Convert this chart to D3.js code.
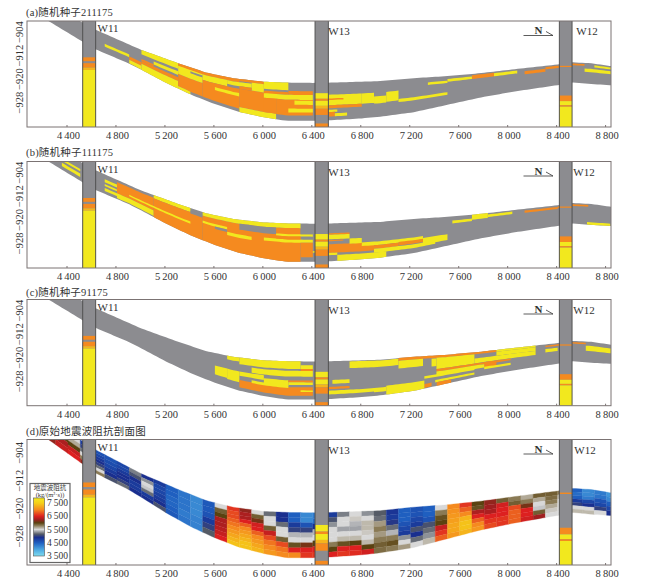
<!DOCTYPE html>
<html>
<head>
<meta charset="utf-8">
<script src="https://cdn.jsdelivr.net/npm/d3@7"></script>
<style>
body { margin: 0; background: #fff; }
text { font-family: "Liberation Serif", serif; fill: #333; }
.cjk { font-family: "Liberation Serif", "Noto Sans CJK SC", serif; }
</style>
</head>
<body>
<svg id="chart" width="662" height="581"></svg>
<script>
let xTicks = [4400, 4800, 5200, 5600, 6000, 6400, 6800, 7200, 7600, 8000, 8400, 8800];
let yTicks = [-904, -912, -920, -928];

// horizons of the section: trace number, depth
let topX = [4200, 4490, 4630, 5000, 5300, 5530, 5750, 6000, 6200, 6400, 6550, 6949, 7221, 7494, 7766, 8038, 8412, 8520, 8670, 8840];
let topD = [893, 899.6, 902.8, 909.6, 914.1, 917.3, 919.2, 920.4, 920.7, 920.8, 920.7, 920.2, 919.2, 918.5, 917.5, 916.2, 914.5, 913.8, 914.1, 915.1];
let botX = [4200, 4234, 4520, 4626, 4893, 5002, 5206, 5410, 5587, 5791, 5996, 6186, 6404, 6548, 6793, 6949, 7221, 7494, 7766, 8038, 8311, 8412, 8523, 8672, 8841];
let botD = [898.8, 899.6, 906.8, 909.4, 914.1, 916.4, 920.9, 924.9, 927.8, 930.6, 932.5, 933.7, 933.7, 933.5, 932.9, 932.3, 930.8, 928.3, 925.8, 923.8, 922.1, 921.5, 920.7, 921.2, 921.6];

// wells: left and right trace, label
let wellNames = ["W11", "W13", "W12"];
let wellX0 = [4520, 6418, 8414];
let wellX1 = [4626, 6527, 8518];
// log intervals per well: depth from, depth to, facies
let wellLogs = [
	[[912.1, 913.4, "O"], [914.1, 915.6, "O"], [915.6, 916.4, "G"], [916.4, 936, "Y"]],
	[[924.3, 926.2, "Y"], [926.2, 926.9, "O"], [926.9, 928.6, "Y"], [928.6, 929.6, "G"], [929.6, 931.7, "O"], [934.6, 936, "O"]],
	[[915, 915.4, "O"], [925.1, 927, "O"], [927, 928.4, "Y"], [928.4, 928.9, "O"], [928.9, 936, "Y"]]
];

// simulated lenses: trace from, trace to, layer from, layer to (0 top, 1 base), facies
let lensesA = [
	[4700, 4900, .52, .66, "Y"], [4900, 5000, .62, .8, "O"], [4900, 5000, .8, .98, "Y"],
	[5000, 5300, 0, .22, "Y"], [5000, 5100, .45, .55, "O"], [5100, 5300, .32, .46, "Y"],
	[5000, 5300, .55, .7, "O"], [5000, 5300, .7, 1, "Y"],
	[5300, 5500, .42, .9, "O"], [5300, 5400, .9, 1, "Y"], [5300, 5500, .08, .42, "Y"], [5400, 5500, .15, .22, "G"],
	[5300, 5800, 0, .1, "O"], [5800, 6000, 0, .07, "O"],
	[5500, 5700, .1, .3, "Y"], [5500, 5800, .3, .9, "O"], [5600, 5800, .43, .53, "Y"], [5700, 5900, .1, .22, "Y"],
	[5800, 6100, .3, .85, "O"], [5900, 6000, .07, .3, "Y"], [5800, 5900, .22, .3, "O"], [5800, 6100, .85, 1, "Y"],
	[6000, 6200, 0, .2, "Y"], [6000, 6200, .25, .32, "O"], [6200, 6400, .22, .32, "O"], [6000, 6400, .32, .45, "Y"],
	[6100, 6400, .45, .86, "O"], [6000, 6100, .45, .85, "O"], [6250, 6400, .47, .58, "Y"], [6200, 6400, .68, .78, "Y"],
	[6530, 6800, .32, .6, "Y"], [6530, 6800, .6, .68, "O"], [6530, 6650, .42, .46, "O"], [6800, 6900, .32, .6, "Y"],
	[6530, 6600, .72, .78, "Y"], [6530, 6580, .78, .9, "O"], [6580, 6680, .82, .9, "Y"],
	[6900, 7000, .42, .62, "Y"], [7000, 7100, .32, .6, "Y"], [7100, 7500, .56, .65, "Y"],
	[7340, 7500, .16, .24, "Y"], [7500, 7700, .1, .2, "Y"], [7700, 7880, .05, .2, "O"], [7880, 8070, .07, .2, "Y"],
	[8130, 8300, .14, .28, "O"], [8300, 8410, .06, .17, "O"], [8410, 8620, .06, .14, "O"], [8620, 8840, .27, .43, "Y"], [8700, 8840, .08, .18, "Y"]
];
let lensesB = [
	[4300, 4500, .38, .5, "Y"], [4350, 4500, .62, .8, "Y"],
	[4700, 4800, .25, .4, "Y"], [4700, 4800, .5, .6, "Y"], [4700, 4800, .7, .85, "Y"],
	[4800, 5100, .12, .7, "O"], [4800, 5100, .7, .95, "Y"], [5100, 5400, 0, .15, "Y"],
	[5100, 5500, .15, 1, "O"], [4900, 5400, .5, .58, "Y"], [5400, 5500, .1, .2, "G"],
	[5500, 6300, .12, 1, "O"], [5500, 6300, 0, .12, "Y"], [5800, 6100, .12, .3, "G"],
	[5500, 5700, .3, .38, "Y"], [5700, 5900, .45, .55, "Y"], [5600, 5700, .38, .46, "G"],
	[6100, 6400, .28, .34, "Y"], [6000, 6400, .42, .5, "Y"], [6100, 6300, .34, .42, "O"],
	[6300, 6400, .5, .88, "O"], [6400, 6500, .72, .76, "Y"], [6300, 6400, .15, .28, "G"],
	[6530, 6900, .55, .78, "O"], [6530, 6700, .26, .3, "O"], [6530, 6700, .3, .42, "Y"], [6530, 6650, .44, .47, "O"],
	[6700, 6800, .42, .56, "Y"], [6800, 7300, .54, .64, "Y"], [6900, 7100, .64, .74, "O"], [7100, 7300, .62, .72, "O"],
	[6900, 7400, .74, .85, "Y"], [7300, 7500, .6, .8, "Y"], [6600, 7000, .84, 1, "Y"], [6530, 6600, .78, .84, "Y"],
	[7540, 7700, .15, .25, "Y"], [7700, 7830, 0, .2, "Y"], [7830, 8030, .06, .17, "Y"],
	[8130, 8400, .08, .18, "O"], [8400, 8650, .06, .14, "O"], [8640, 8830, .88, 1, "Y"]
];
let lensesC = [
	[5700, 5800, 0, .12, "Y"], [5800, 6300, 0, .2, "Y"], [6300, 6400, .1, .2, "Y"], [6300, 6400, .2, .26, "O"],
	[5900, 6400, .25, .4, "Y"], [5600, 5700, .42, .72, "Y"], [5700, 5800, .42, .75, "Y"], [5800, 6000, .42, .55, "Y"],
	[6000, 6200, .5, .65, "Y"], [6200, 6400, .5, .55, "O"], [6200, 6400, .55, .62, "Y"],
	[5800, 6400, .68, .9, "O"], [5900, 6200, .62, .7, "Y"], [6300, 6400, .76, .8, "Y"],
	[6700, 7100, .02, .2, "Y"], [7100, 7900, 0, .08, "O"], [7900, 8220, 0, .08, "Y"],
	[7100, 7300, .08, .3, "Y"], [7370, 7410, .1, .35, "Y"], [7410, 7720, .08, .45, "Y"],
	[7720, 8220, .25, .44, "Y"], [7900, 8220, .08, .25, "Y"],
	[7410, 8016, .45, .53, "O"], [7800, 7900, .45, .68, "O"], [7410, 7800, .53, .67, "Y"], [7800, 8016, .64, .74, "Y"],
	[7311, 7720, .62, .7, "Y"], [7400, 7720, .8, .88, "Y"], [7311, 7370, .86, .98, "O"], [7412, 7530, .88, 1, "O"],
	[6530, 6900, .78, .88, "Y"], [6900, 7000, .78, .9, "Y"], [7000, 7311, .75, 1, "Y"],
	[6560, 6700, .5, .6, "Y"], [6530, 6700, .68, .74, "O"],
	[8300, 8630, .06, .13, "O"], [8630, 8840, .2, .45, "Y"], [8300, 8400, .22, .38, "Y"]
];

// impedance, one list per 100 traces from 4200, top to base
let impedance = [
	[5800, 6000, 6200],
	[5700, 6000, 6300, 6400],
	[5500, 5650, 6000, 6400, 6500],
	[4800, 5000, 5200, 5500, 5800, 6200],
	[4600, 4700, 4800, 4900, 5000, 5200, 5500, 5800],
	[4600, 4650, 4700, 4800, 4900, 5100],
	[4700, 4700, 4800, 4900, 4900, 5000, 5200],
	[5250, 5100, 4900, 4800, 4800, 4900],
	[4900, 5300, 5500, 5450, 5200, 4800, 4900],
	[4800, 4700, 4700, 4750, 4800, 4900, 5100],
	[4500, 4500, 4450, 4450, 4500, 4550],
	[4350, 4350, 4350, 4300, 4350],
	[4200, 4200, 4200, 4250, 4250],
	[4550, 4550, 4600, 4800, 5000, 5150],
	[5500, 5900, 6000, 6300, 6300, 6350, 6400, 6500],
	[6600, 6700, 6700, 6800, 6900, 7000, 7100, 7200, 7300, 7400],
	[6200, 6300, 6300, 6500, 6800, 7000, 7100, 7200, 7300, 7400, 7400],
	[5500, 5900, 6100, 6450, 6500, 6800, 7000, 7100, 7200, 7300],
	[5200, 5500, 5500, 5900, 6400, 6700, 6900, 7000, 7100],
	[4900, 4900, 5200, 5500, 5500, 5900, 6700, 6900, 7000],
	[4500, 4500, 4800, 5000, 5400, 5500, 5950, 6500, 7000],
	[4200, 4200, 4600, 5000, 5400, 5500, 6100, 6500, 6600],
	[4300, 4400, 4900, 5400, 5500, 6000, 6500, 6600],
	[4800, 5100, 5300, 5500, 5500, 5500, 5800, 6000, 6500],
	[5250, 5500, 5500, 5350, 5500, 5600, 5950, 6500, 6600],
	[5500, 5550, 5400, 5350, 5500, 5600, 6000, 6500, 6550],
	[5300, 5500, 5600, 5600, 5550, 5500, 5600, 6000, 6450],
	[5150, 5200, 5700, 5800, 5700, 5800, 5900, 5850],
	[4850, 4800, 4950, 5200, 5400, 5800, 5950, 5800],
	[4500, 4500, 4500, 4600, 4700, 4800, 5300, 5500, 5700],
	[4600, 4600, 4700, 4800, 5100, 4900, 5200, 5500],
	[4500, 4500, 4600, 5100, 5200, 5300, 5600],
	[5500, 5800, 5950, 6000, 6400, 6600, 6800],
	[7000, 7050, 7100, 7150, 7200, 7200, 7100],
	[6600, 6800, 7000, 7300, 7400, 7400, 7300],
	[6000, 5950, 6300, 6500, 6800, 7000, 7100],
	[6200, 6250, 6300, 6500, 6600, 6700],
	[5900, 6450, 6500, 6500, 6600, 6600],
	[5800, 5900, 6700, 6800, 6800, 6800],
	[5650, 5800, 6100, 6500, 6500, 6450],
	[5900, 5650, 5500, 5450, 5900, 6250],
	[5900, 5850, 5800, 5650, 5550, 5500],
	[5800, 5600, 5500, 5500, 5500, 5500],
	[4500, 4400, 4500, 4800, 5000, 5500, 5600],
	[4200, 4200, 4300, 4700, 4900, 5500, 5600],
	[4300, 4350, 4600, 4700, 5000, 5500],
	[4100, 4200, 4500, 4700, 4900]
];

let colorStops = [3500, 4000, 4500, 4900, 5150, 5500, 5800, 6000, 6250, 6500, 7000, 7500, 7880];
let colorHex = ["#7fdcef", "#4aa5e0", "#1f5fc0", "#1a2f8f", "#555b66", "#d8d8d8", "#8a7a55", "#5a4210", "#a01f20", "#dd2020", "#f58a1f", "#f5d018", "#f4e81f"];
let legendTicks = [7500, 6500, 5500, 4500, 3500];

let titles = ["(a)随机种子211175", "(b)随机种子111175", "(c)随机种子91175", "(d)原始地震波阻抗剖面图"];
let frameTop = [21, 161.5, 299.5, 439.5];
let frameBot = [127, 268, 405.7, 565];
let titleY = [16, 156, 296, 435];
let w12LabelX = [587, 584, 584, 585];
let panelLenses = [lensesA, lensesB, lensesC, null];

let facies = { Y: "#f2e81e", O: "#f58a1f", G: "#8c8c90" };

let svg = d3.select("#chart");

let x = d3.scaleLinear().domain([4065, 8836]).range([27, 611]);
let topAt = d3.scaleLinear().domain(topX).range(topD);
let botAt = d3.scaleLinear().domain(botX).range(botD);
let color = d3.scaleLinear().domain(colorStops).range(colorHex);

function depthAt(v, f) {
	return topAt(v) + (botAt(v) - topAt(v))*f;
}

function traces(a, b) {
	return d3.range(a, b, 25).concat(b);
}

function tickFormat(d) {
	return d3.format(",")(d).replace(",", "\u2009");
}

titles.forEach(function(title, p) {
	let y = d3.scaleLinear().domain([899.75, 935.8]).range([frameTop[p], frameBot[p]]);
	let g = svg.append("g");
	let clipId = "clip" + p;

	g.append("clipPath").attr("id", clipId).append("rect")
		.attr("x", x(4065)).attr("y", frameTop[p])
		.attr("width", x(8836) - x(4065)).attr("height", frameBot[p] - frameTop[p]);

	let plot = g.append("g").attr("clip-path", "url(#" + clipId + ")");

	let band = function(a, b, f0, f1) {
		return d3.area()
			.x(function(v) { return x(v); })
			.y0(function(v) { return y(depthAt(v, f0)); })
			.y1(function(v) { return y(depthAt(v, f1)); })(traces(a, b));
	};

	if (panelLenses[p]) {
		plot.append("path")
			.attr("d", band(4200, 8840, 0, 1))
			.attr("fill", facies.G);
		plot.selectAll("path.lens")
			.data(panelLenses[p])
			.enter().append("path")
			.attr("class", "lens")
			.attr("d", function(d) { return band(d[0], d[1], d[2], d[3]); })
			.attr("fill", function(d) { return facies[d[4]]; });
	} else {
		impedance.forEach(function(col, i) {
			let a = 4200 + i*100;
			let b = Math.min(a + 100, 8840);
			plot.selectAll("path.c" + i)
				.data(col)
				.enter().append("path")
				.attr("class", "c" + i)
				.attr("d", function(d, k) { return band(a, b, k/col.length, (k + 1)/col.length); })
				.attr("fill", function(d) { return color(d); })
				.attr("stroke", function(d) { return color(d); })
				.attr("stroke-width", 0.3);
		});
	}

	// wells on top of the section
	wellNames.forEach(function(name, w) {
		let wx = x(wellX0[w]);
		let ww = x(wellX1[w]) - wx;
		plot.append("rect")
			.attr("x", wx).attr("y", frameTop[p])
			.attr("width", ww).attr("height", frameBot[p] - frameTop[p])
			.attr("fill", facies.G);
		plot.selectAll("rect.log" + w)
			.data(wellLogs[w])
			.enter().append("rect")
			.attr("class", "log" + w)
			.attr("x", wx)
			.attr("y", function(d) { return y(d[0]); })
			.attr("width", ww)
			.attr("height", function(d) { return y(d[1]) - y(d[0]); })
			.attr("fill", function(d) { return d[2] == "G" ? "#f5b51c" : facies[d[2]]; });
		[wx, wx + ww].forEach(function(lx) {
			plot.append("line")
				.attr("x1", lx).attr("x2", lx)
				.attr("y1", frameTop[p]).attr("y2", frameBot[p])
				.attr("stroke", "#4a4a4a").attr("stroke-width", 0.9);
		});
		let labelX = w == 0 ? 108 : (w == 1 ? 339 : w12LabelX[p]);
		g.append("text")
			.attr("x", labelX)
			.attr("y", frameTop[p] + (w == 0 ? 11 : 14))
			.style("text-anchor", "middle")
			.style("font-size", "11px")
			.text(name);
	});

	// north arrow
	let ny = frameTop[p] + 14.5;
	g.append("path")
		.attr("d", "M523.5," + ny + "H553L546,"+ (ny - 4))
		.attr("fill", "none").attr("stroke", "#333").attr("stroke-width", 0.8);
	g.append("text")
		.attr("x", 538.5).attr("y", ny - 1.5)
		.style("text-anchor", "middle")
		.style("font-size", "11px")
		.style("font-weight", "bold")
		.text("N");

	// frame
	g.append("rect")
		.attr("x", x(4065)).attr("y", frameTop[p])
		.attr("width", x(8836) - x(4065)).attr("height", frameBot[p] - frameTop[p])
		.attr("fill", "none").attr("stroke", "#7b7373").attr("stroke-width", 1);

	// axes
	let xAxis = g.append("g")
		.attr("transform", "translate(0," + frameBot[p] + ")")
		.call(d3.axisBottom(x).tickValues(xTicks).tickSize(0).tickPadding(5).tickFormat(tickFormat));
	xAxis.select(".domain").remove();
	xAxis.selectAll("line")
		.attr("y2", -2)
		.attr("transform", "translate(-1.5,0)")
		.attr("stroke", "#7b7373");
	xAxis.selectAll("text").style("font-family", "'Liberation Serif', serif").style("font-size", "10.5px").attr("fill", "#333");

	let yAxis = g.append("g")
		.attr("transform", "translate(" + x(4065) + ",0)")
		.call(d3.axisLeft(d3.scaleLinear().domain([-899.75, -935.8]).range([frameTop[p], frameBot[p]]))
			.tickValues(yTicks).tickSize(0).tickPadding(3).tickFormat(function(d) { return "\u2212" + Math.abs(d); }));
	yAxis.select(".domain").remove();
	yAxis.selectAll("text")
		.attr("transform", "translate(-7,-2) rotate(-90)")
		.attr("x", 0).attr("dy", "0.32em")
		.style("text-anchor", "middle")
		.style("font-family", "'Liberation Serif', serif")
		.style("font-size", "10.5px")
		.attr("fill", "#333");

	g.append("text")
		.attr("class", "cjk")
		.attr("x", 26).attr("y", titleY[p])
		.style("font-size", "10.5px")
		.style("letter-spacing", "0.2px")
		.text(title);
});

// legend of panel (d)
let legend = svg.append("g");
legend.append("rect")
	.attr("x", 30).attr("y", 483.5).attr("width", 40).attr("height", 79)
	.attr("fill", "#fff").attr("stroke", "#666").attr("stroke-width", 1.2);
legend.append("text").attr("class", "cjk")
	.attr("x", 50).attr("y", 489.5).style("text-anchor", "middle").style("font-size", "6.5px")
	.text("地震波阻抗");
legend.append("text")
	.attr("x", 50).attr("y", 496.5).style("text-anchor", "middle").style("font-size", "6.5px")
	.text("(kg/(m²·s))");

let legendY = d3.scaleLinear().domain([3500, 7500]).range([556, 503]);
let gradient = svg.append("defs").append("linearGradient")
	.attr("id", "imp").attr("x1", 0).attr("x2", 0).attr("y1", 1).attr("y2", 0);
gradient.selectAll("stop")
	.data(colorStops)
	.enter().append("stop")
	.attr("offset", function(d) { return (d - colorStops[0])/(colorStops[colorStops.length - 1] - colorStops[0]); })
	.attr("stop-color", function(d) { return color(d); });
legend.append("rect")
	.attr("x", 33.5).attr("y", legendY(7880))
	.attr("width", 11).attr("height", legendY(3500) - legendY(7880))
	.attr("fill", "url(#imp)").attr("stroke", "#555").attr("stroke-width", 0.6);
legend.selectAll("text.tick")
	.data(legendTicks)
	.enter().append("text")
	.attr("class", "tick")
	.attr("x", 47)
	.attr("y", function(d) { return legendY(d) + 3; })
	.style("font-size", "9.5px")
	.text(tickFormat);
</script>
</body>
</html>
